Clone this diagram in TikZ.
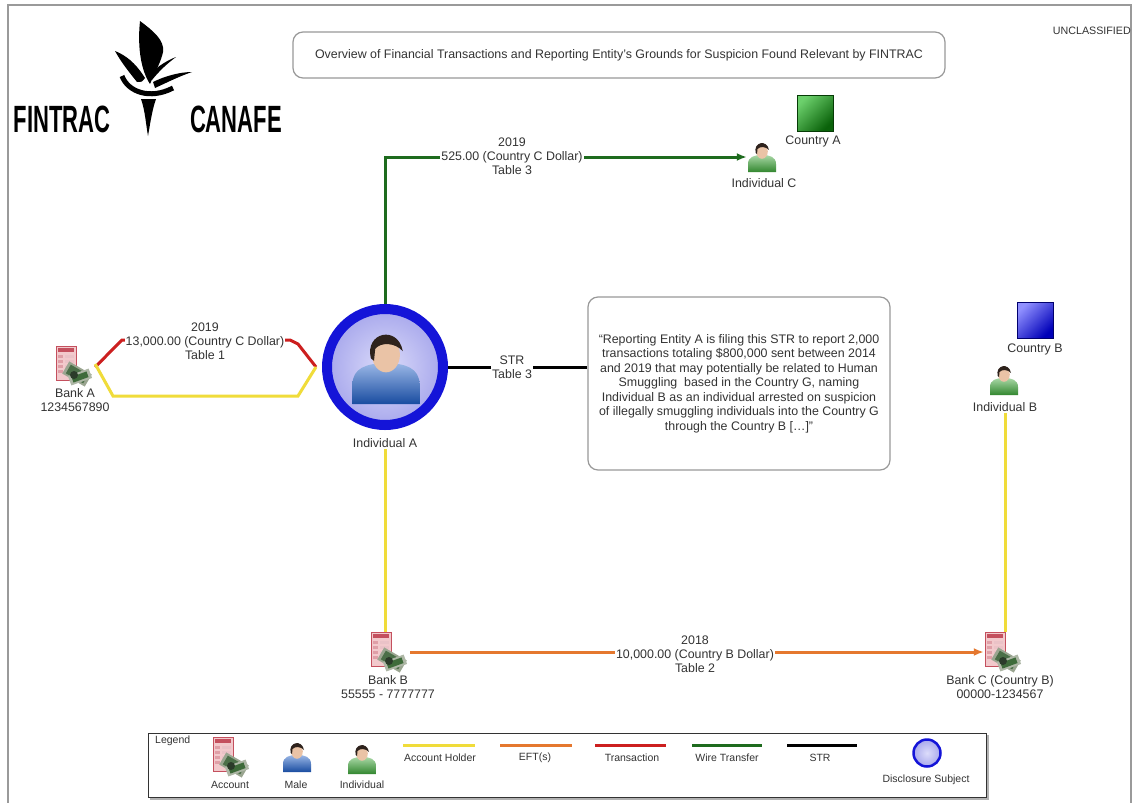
\documentclass[tikz,border=0pt]{standalone}
\usepackage{fontspec}
\setmainfont{Liberation Sans}
\usetikzlibrary{arrows.meta}
\definecolor{acctyellow}{HTML}{F0DC3A}
\definecolor{eftorange}{HTML}{E5782F}
\definecolor{transred}{HTML}{CC1F1F}
\definecolor{wiregreen}{HTML}{1E6B1E}
\definecolor{ringblue}{HTML}{1414D8}
\definecolor{lavlight}{HTML}{DCDCFA}
\definecolor{lavdark}{HTML}{A8A8EC}
\definecolor{skin}{HTML}{EAC3A6}
\definecolor{hair}{HTML}{2E221C}
\definecolor{shirtblue}{HTML}{1F5FC8}
\definecolor{shirtgreen}{HTML}{3FA83A}
\definecolor{acctpink}{HTML}{F2C9CC}
\definecolor{acctred}{HTML}{C4505E}
\definecolor{moneygray}{HTML}{9AA590}
\definecolor{moneygreen}{HTML}{3E6B3A}
\definecolor{moneydark}{HTML}{2B3B2A}
\definecolor{sqgreenlight}{HTML}{6CD06C}
\definecolor{sqgreendark}{HTML}{0A620A}
\definecolor{sqbluelight}{HTML}{9090FF}
\definecolor{sqbluedark}{HTML}{0000B8}
\definecolor{framegray}{HTML}{9A9A9A}
\definecolor{txt}{HTML}{333333}
\tikzset{
  pics/person/.style={code={
    \shade[top color=#1!45!white, bottom color=#1!80!black] (-14,15) -- (-14,7) .. controls (-14,0) and (-8,-2) .. (0,-2) .. controls (8,-2) and (14,0) .. (14,7) -- (14,15) -- cycle;
    \fill[skin] (0,-5.5) ellipse [x radius=5.8, y radius=7.3];
    \fill[hair] (-6.3,-4) .. controls (-9,-15) and (5,-18) .. (7,-7) .. controls (4,-10.5) and (-2,-11) .. (-4.5,-8) -- (-5,-3) -- cycle;
  }},
  pics/account/.style={code={
    \fill[acctpink] (-17,-20) rectangle (3,14);
    \draw[acctred, line width=0.8] (-17,-20) rectangle (3,14);
    \fill[acctred] (-15,-18) rectangle (1,-14);
    \foreach \r in {-11,-6,-1,4} {
      \fill[acctred!55] (-15,\r) rectangle (-10,\r+3);
      \fill[acctred!35] (-8,\r) rectangle (1,\r+3);
    }
    \begin{scope}[shift={(4,8)}, rotate=-30]
      \fill[moneygray] (-13,-7) rectangle (13,7);
      \fill[moneygreen!80!gray] (-10,-5) rectangle (10,5);
    \end{scope}
    \begin{scope}[shift={(7,11)}, rotate=20]
      \fill[moneygray!80!white] (-11,-5) rectangle (11,5);
      \fill[moneygreen] (-8,-3) rectangle (8,3);
    \end{scope}
    \fill[moneydark] (1,9) circle (4);
  }},
  lbl/.style={font=\fontsize{12.4}{14}\selectfont, align=center, inner sep=1pt, text=txt},
  elbl/.style={lbl, fill=white},
  leglbl/.style={font=\fontsize{10.5}{12}\selectfont, align=center, inner sep=1pt, text=txt},
  acctbox/.style={minimum width=44, minimum height=40, inner sep=0},
  personbox/.style={minimum width=30, minimum height=30, inner sep=0},
  subject/.style={circle, draw=ringblue, line width=10, minimum size=116, inner color=lavlight, outer color=lavdark},
  countrysq/.style={minimum size=36, inner sep=0, draw=#1!60!black, line width=0.6},
  acctholder/.style={draw=acctyellow, line width=3},
  eftline/.style={draw=eftorange, line width=3},
  transline/.style={draw=transred, line width=3},
  wireline/.style={draw=wiregreen, line width=3},
  strline/.style={draw=black, line width=3},
  roundbox/.style={draw=gray!80, line width=1.2, rounded corners=10, fill=white},
}
\begin{document}
\begin{tikzpicture}[x=1pt, y=-1pt]
\useasboundingbox (0,0) rectangle (1135,803);
\fill[white] (0,0) rectangle (1135,803);
% frame
\draw[framegray, line width=2] (8,803) -- (8,5) -- (1131,5) -- (1131,803);

% logo
\begin{scope}[fill=black]
  \fill (140,21) .. controls (152,30) and (165,40) .. (163,52) .. controls (161,62) and (155,72) .. (150,84) .. controls (142,72) and (137,50) .. (140,21) -- cycle;
  \fill (115,51) .. controls (125,55) and (135,62) .. (145,78) .. controls (142,82) .. (137,82) .. controls (129,72) and (121,62) .. (115,51) -- cycle;
  \fill (176,57) .. controls (168,60) and (158,66) .. (150,74) -- (152,80) .. controls (160,70) and (168,63) .. (176,57) -- cycle;
  \fill (192,72) .. controls (180,72) and (165,76) .. (153,82) -- (155,88) .. controls (168,82) and (180,76) .. (192,72) -- cycle;
  \draw[line width=5] (122,76) .. controls (128,92) and (150,100) .. (173,88);
  \fill (141,99) .. controls (145,110) and (146,125) .. (148,136) .. controls (150,125) and (152,110) .. (156,99) -- cycle;
\end{scope}
\node[anchor=base, inner sep=0] (fintrac) at (62,132) {\scalebox{0.58}[1]{\fontsize{38}{38}\selectfont\bfseries FINTRAC}};
\node[anchor=base, inner sep=0] (canafe) at (236,132) {\scalebox{0.58}[1]{\fontsize{38}{38}\selectfont\bfseries CANAFE}};

% title and classification
\node[roundbox, minimum width=652, minimum height=46, lbl] (title) at (619,55) {Overview of Financial Transactions and Reporting Entity's Grounds for Suspicion Found Relevant by FINTRAC};
\node[anchor=east, font=\fontsize{10.7}{12}\selectfont, text=txt, inner sep=0] (unclass) at (1131,31) {UNCLASSIFIED};

% nodes
\node[acctbox] (bankA) at (73,366) {};
\pic at (bankA) {account};
\node[lbl] (bankAlbl) at (75,400) {Bank A\\1234567890};

\node[subject] (indA) at (385,367) {};
\pic[scale=2.4] at (386,368) {person=shirtblue};
\node[lbl] (indAlbl) at (385,443) {Individual A};
\coordinate (indAw) at ([xshift=-6]indA.west);

\node[personbox] (indC) at (762,157) {};
\pic at (indC) {person=shirtgreen};
\node[lbl] (indClbl) at (764,183) {Individual C};
\node[countrysq=sqgreendark, top color=sqgreenlight, bottom color=sqgreendark, shading angle=45] (ctryA) at (815,113) {};
\node[lbl] (ctryAlbl) at (813,141) {Country A};

\node[countrysq=sqbluedark, top color=sqbluelight, bottom color=sqbluedark, shading angle=45] (ctryB) at (1035,320) {};
\node[lbl] (ctryBlbl) at (1035,349) {Country B};
\node[personbox] (indB) at (1004,380) {};
\pic at (indB) {person=shirtgreen};
\node[lbl] (indBlbl) at (1005,407) {Individual B};

\node[acctbox] (bankB) at (388,652) {};
\pic at (bankB) {account};
\node[lbl] (bankBlbl) at (388,687) {Bank B\\55555 - 7777777};

\node[acctbox, minimum width=36] (bankC) at (1002,652) {};
\pic at (bankC) {account};
\node[lbl] (bankClbl) at (1000,687) {Bank C (Country B)\\00000-1234567};

\node[roundbox, minimum width=302, minimum height=173, lbl, font=\fontsize{12.4}{14.5}\selectfont] (strbox) at (739,383.5) {``Reporting Entity A is filing this STR to report 2,000\\transactions totaling \$800,000 sent between 2014\\and 2019 that may potentially be related to Human\\Smuggling\ \ based in the Country G, naming\\Individual B as an individual arrested on suspicion\\of illegally smuggling individuals into the Country G\\through the Country B [\dots]''};

% connectors
\draw[transline] ([yshift=-1]bankA.east) -- (122,340) -- (290,340) -- (298,344) -- (indAw);
\draw[acctholder] ([yshift=2]bankA.east) -- (113,396) -- (298,396) -- (indAw);
\node[elbl] (translbl) at (205,341) {2019\\13,000.00 (Country C Dollar)\\Table 1};

\draw[wireline, -{Latex[length=10pt,width=8pt]}] (indA.north) |- (indC.west);
\node[elbl] (wirelbl) at (512,156) {2019\\525.00 (Country C Dollar)\\Table 3};

\draw[strline] (indA.east) -- (indA.east -| strbox.west);
\node[elbl] (strlbl) at (512,367) {STR\\Table 3};

\draw[acctholder] (indAlbl.south) -- (indAlbl.south |- bankB.north);
\draw[acctholder] (indBlbl.south) -- (indBlbl.south |- bankC.north);

\draw[eftline, -{Latex[length=10pt,width=8pt]}] (bankB.east) -- (bankC.west);
\node[elbl] (eftlbl) at (695,654) {2018\\10,000.00 (Country B Dollar)\\Table 2};

% legend
\fill[gray!60] (150,735) rectangle (989,800);
\node[draw=gray!40!black, line width=1, fill=white, minimum width=838, minimum height=64, inner sep=0] (legend) at (567,765) {};
\node[leglbl, anchor=north west] (legtitle) at (154,735) {Legend};
\node[acctbox] (legacct) at (230,757) {};
\pic at (legacct) {account};
\node[leglbl] (legacctlbl) at (230,785) {Account};
\node[personbox] (legmale) at (297,757) {};
\pic at (legmale) {person=shirtblue};
\node[leglbl] (legmalelbl) at (296,785) {Male};
\node[personbox] (legind) at (362,759) {};
\pic at (legind) {person=shirtgreen};
\node[leglbl] (legindlbl) at (362,785) {Individual};
\draw[acctholder] (403,745) -- (475,745);
\node[leglbl] (legah) at (440,758) {Account Holder};
\draw[eftline] (500,745) -- (572,745);
\node[leglbl] (legeft) at (535,758) {EFT(s)};
\draw[transline] (595,745) -- (666,745);
\node[leglbl] (legtrans) at (632,758) {Transaction};
\draw[wireline] (692,745) -- (762,745);
\node[leglbl] (legwire) at (727,758) {Wire Transfer};
\draw[strline] (787,745) -- (857,745);
\node[leglbl] (legstr) at (820,758) {STR};
\node[circle, draw=ringblue, line width=2.5, minimum size=27, inner color=lavlight, outer color=lavdark] (legsub) at (927,753) {};
\node[leglbl] (legsublbl) at (926,780) {Disclosure Subject};
\end{tikzpicture}
\end{document}
